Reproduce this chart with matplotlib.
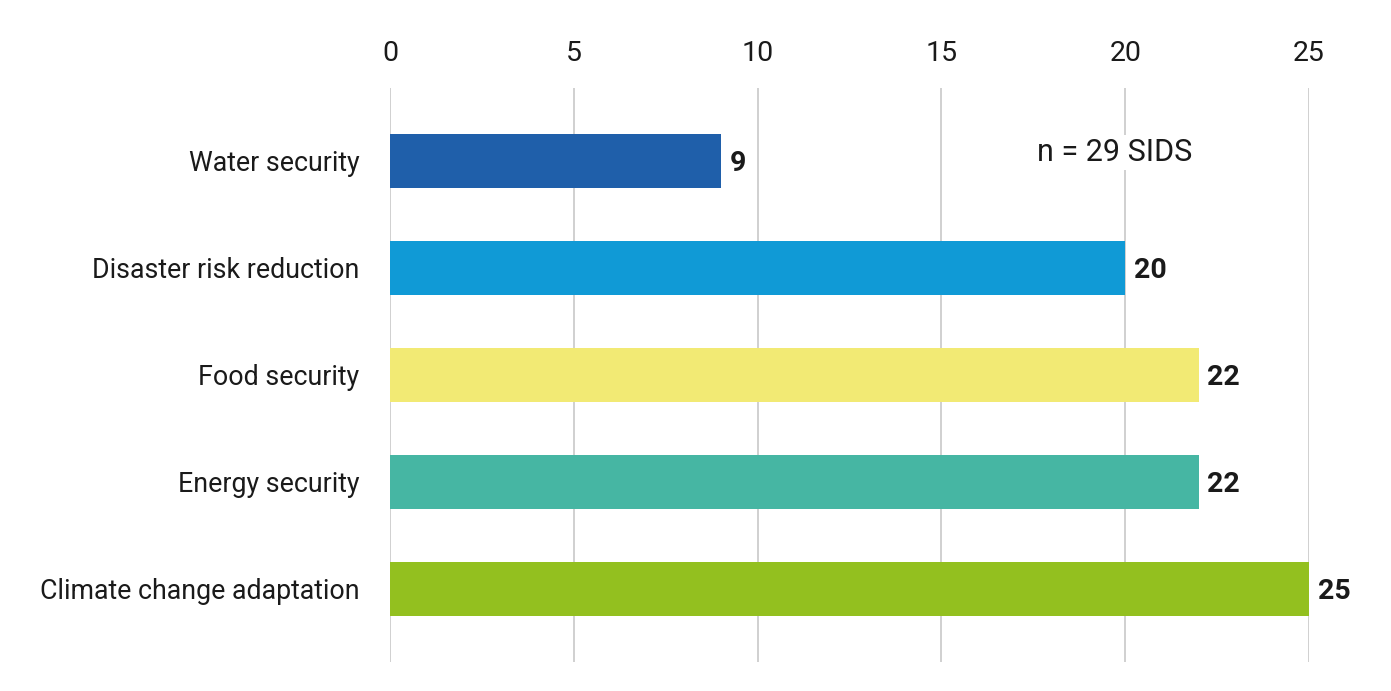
import matplotlib
matplotlib.use("Agg")
import matplotlib.pyplot as plt

plt.rcParams['font.family'] = ['Roboto', 'DejaVu Sans']

categories = ["Water security", "Disaster risk reduction", "Food security",
              "Energy security", "Climate change adaptation"]
values = [9, 20, 22, 22, 25]
colors = ["#1f5faa", "#109ad6", "#f2ea74", "#46b6a3", "#93c01f"]
xticks = [0, 5, 10, 15, 20, 25]
note = "n = 29 SIDS"

fig = plt.figure(figsize=(13.91, 6.91), dpi=100)
ax = fig.add_axes([0.2804, 0.042, 0.6607, 0.8307])

ypos = list(range(len(categories)))
ax.barh(ypos, values, height=0.5, color=colors, zorder=2)

for y, v in zip(ypos, values):
    ax.text(v + 0.23, y, str(v), va="center_baseline", ha="left",
            fontsize=20.5, fontweight="bold", color="#1a1a1a")

ax.set_xlim(0, 25)
ax.set_ylim(4.682, -0.682)
ax.set_xticks(xticks)
ax.set_yticks(ypos)
ax.set_yticklabels(categories)
ax.xaxis.tick_top()
ax.tick_params(axis="x", length=0, pad=15, labelsize=20.5, labelcolor="#1a1a1a")
ax.tick_params(axis="y", length=0, pad=22, labelsize=19.3, labelcolor="#1a1a1a")
ax.grid(axis="x", color="#c8c8c8", linewidth=1.2, zorder=0)
ax.set_axisbelow(True)
for s in ax.spines.values():
    s.set_visible(False)

ax.text(17.6, -0.08, note, fontsize=22, color="#1a1a1a", va="center", ha="left",
        bbox=dict(facecolor="white", edgecolor="none", pad=2), zorder=3)

fig.savefig("out.png", dpi=100)
